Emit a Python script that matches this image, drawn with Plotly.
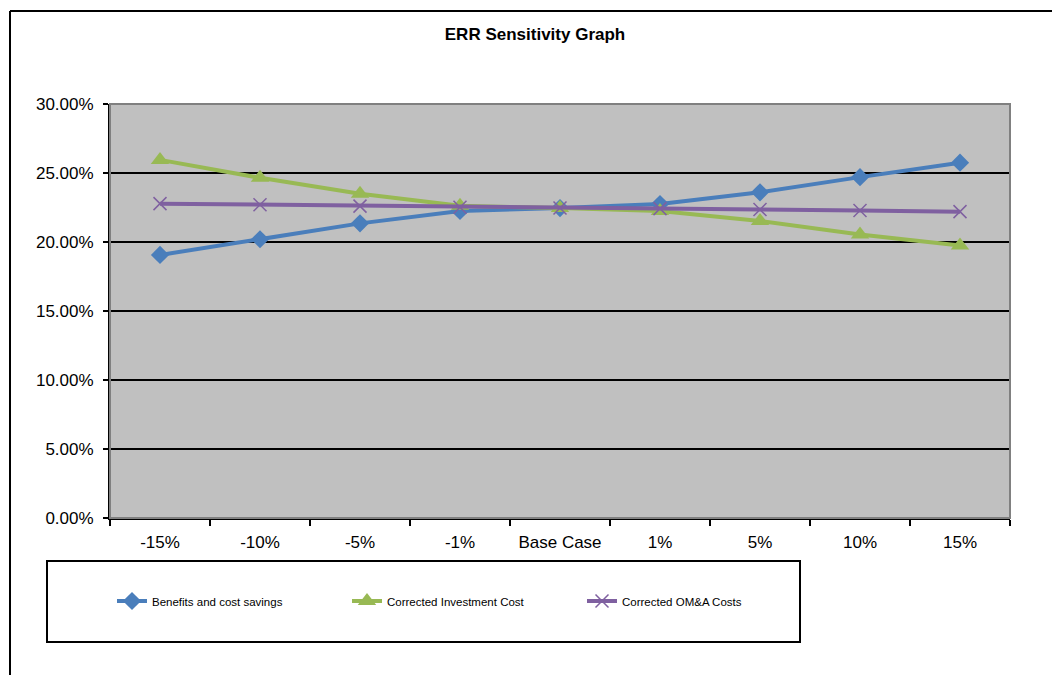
import plotly.graph_objects as go

categories = ["-15%", "-10%", "-5%", "-1%", "Base Case", "1%", "5%", "10%", "15%"]
benefits = [0.1906, 0.2020, 0.2135, 0.2225, 0.2246, 0.2275, 0.2360, 0.2470, 0.2575]
investment = [0.2595, 0.2465, 0.2350, 0.2262, 0.2246, 0.2225, 0.2152, 0.2055, 0.1975]
oma = [0.2278, 0.2270, 0.2260, 0.2252, 0.2246, 0.2242, 0.2235, 0.2228, 0.2220]
y_ticks = [0, 0.05, 0.10, 0.15, 0.20, 0.25, 0.30]

W, H = 1052, 675
L, R, T, B = 110, 42, 104, 157
pw, ph = W - L - R, H - T - B

def px(x):
    return (x - L) / pw

def py(y):
    return (H - B - y) / ph

fig = go.Figure()
fig.add_trace(go.Scatter(x=categories, y=benefits, name="Benefits and cost savings",
                         mode="lines+markers", line=dict(color="#4A7EBB", width=4),
                         marker=dict(symbol="diamond", size=14, color="#4A7EBB")))
fig.add_trace(go.Scatter(x=categories, y=investment, name="Corrected Investment Cost",
                         mode="lines+markers", line=dict(color="#98B954", width=4),
                         marker=dict(symbol="triangle-up", size=16, color="#98B954")))
fig.add_trace(go.Scatter(x=categories, y=oma, name="Corrected OM&A Costs",
                         mode="lines+markers", line=dict(color="#7F60A0", width=4),
                         marker=dict(symbol="x-thin-open", size=13, color="#7F60A0",
                                     line=dict(color="#7F60A0", width=1.5))))

shapes = [
    # outer chart border (top and left)
    dict(type="line", xref="paper", yref="paper", x0=px(10), x1=px(1060), y0=py(11), y1=py(11),
         line=dict(color="black", width=2)),
    dict(type="line", xref="paper", yref="paper", x0=px(10), x1=px(10), y0=py(11), y1=py(680),
         line=dict(color="black", width=2)),
    # plot area frame
    dict(type="rect", xref="paper", yref="paper", x0=0, x1=1, y0=0, y1=1,
         line=dict(color="#808080", width=2), layer="above"),
    # legend box
    dict(type="rect", xref="paper", yref="paper", x0=px(47), x1=px(800), y0=py(561), y1=py(642),
         line=dict(color="black", width=2)),
]

fig.update_layout(
    width=W, height=H,
    margin=dict(l=L, r=R, t=T, b=B, pad=0),
    paper_bgcolor="white", plot_bgcolor="#C0C0C0",
    font=dict(family="Liberation Sans, Arial, sans-serif", color="black"),
    title=dict(text="<b>ERR Sensitivity Graph</b>", xref="container", x=535 / W, xanchor="center",
               y=1 - 34 / H, yanchor="middle", font=dict(size=17)),
    shapes=shapes,
    showlegend=True,
    legend=dict(orientation="h", x=px(112), xanchor="left", y=py(601), yanchor="middle",
                bgcolor="rgba(0,0,0,0)", borderwidth=0, entrywidth=190,
                font=dict(family="Liberation Sans, Arial, sans-serif", size=11.5),
                itemsizing="trace"),
    xaxis=dict(type="category", range=[-0.5, 8.5], showgrid=False, zeroline=False,
               showline=True, linecolor="black", linewidth=2,
               ticks="outside", tickson="boundaries", ticklen=6, tickcolor="black", tickwidth=2,
               tickfont=dict(size=17), ticklabelstandoff=8, fixedrange=True),
    yaxis=dict(range=[0, 0.30], tickvals=y_ticks, tickformat=".2%",
               showgrid=True, gridcolor="black", gridwidth=2, zeroline=False,
               showline=True, linecolor="black", linewidth=2,
               ticks="outside", ticklen=5, tickcolor="black", tickwidth=2,
               tickfont=dict(size=17), ticklabelstandoff=6),
)

fig.write_html("out.html")
